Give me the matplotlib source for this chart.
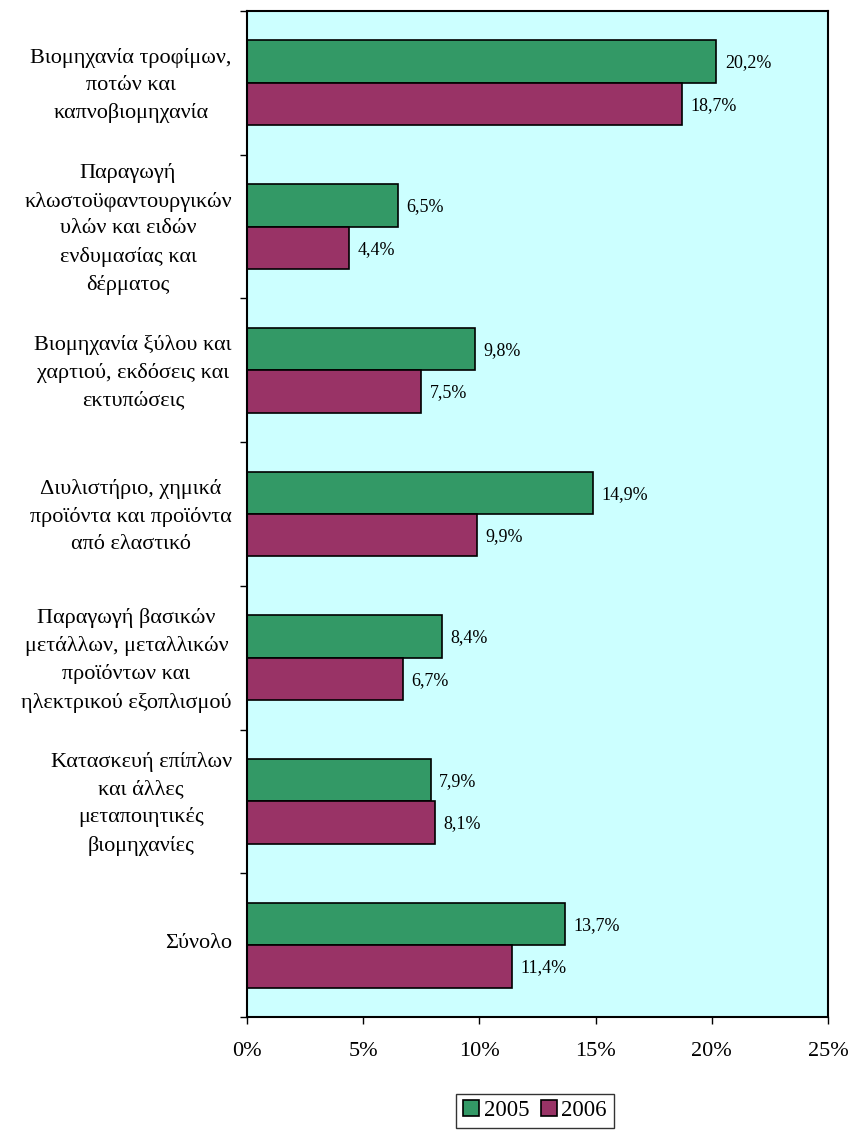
import matplotlib.pyplot as plt
import matplotlib.transforms as mtransforms
import numpy as np
from matplotlib.ticker import FuncFormatter

plt.rcParams['font.family'] = ['Liberation Serif', 'DejaVu Serif']

categories = ["Βιομηχανία τροφίμων,\nποτών και\nκαπνοβιομηχανία",
              "Παραγωγή\nκλωστοϋφαντουργικών\nυλών και ειδών\nενδυμασίας και\nδέρματος",
              "Βιομηχανία ξύλου και\nχαρτιού, εκδόσεις και\nεκτυπώσεις",
              "Διυλιστήριο, χημικά\nπροϊόντα και προϊόντα\nαπό ελαστικό",
              "Παραγωγή βασικών\nμετάλλων, μεταλλικών\nπροϊόντων και\nηλεκτρικού εξοπλισμού",
              "Κατασκευή επίπλων\nκαι άλλες\nμεταποιητικές\nβιομηχανίες",
              "Σύνολο"]
values_2005 = [20.2, 6.5, 9.8, 14.9, 8.4, 7.9, 13.7]
values_2006 = [18.7, 4.4, 7.5, 9.9, 6.7, 8.1, 11.4]
x_ticks = [0, 5, 10, 15, 20, 25]

fig = plt.figure(figsize=(8.53, 11.32), dpi=100)
ax = fig.add_axes([0.2896, 0.1016, 0.6811, 0.8887])
ax.set_facecolor('#CCFFFF')

n = len(categories)
pos = np.arange(n)
h = 0.295
b1 = ax.barh(pos - h / 2, values_2005, height=h, color='#339966',
             edgecolor='black', linewidth=1.2, label='2005')
b2 = ax.barh(pos + h / 2, values_2006, height=h, color='#993366',
             edgecolor='black', linewidth=1.2, label='2006')

for bars, vals in [(b1, values_2005), (b2, values_2006)]:
    for bar, v in zip(bars, vals):
        ax.annotate(f"{v:.1f}%".replace('.', ','),
                    (v, bar.get_y() + bar.get_height() / 2),
                    xytext=(6, -1), textcoords='offset points',
                    va='center', ha='left', fontsize=13)

ax.set_xlim(0, 25)
ax.set_ylim(n - 0.5, -0.5)
ax.set_xticks(x_ticks)
ax.xaxis.set_major_formatter(FuncFormatter(lambda x, p: f"{x:.0f}%"))
ax.tick_params(axis='x', labelsize=16, length=5, width=1, pad=13)

# category boundaries as ticks, labels at centers
ax.set_yticks(np.arange(-0.5, n, 1))
ax.set_yticklabels([])
ax.set_yticks(pos, minor=True)
ax.set_yticklabels(categories, minor=True, fontsize=16, ha='right',
                   multialignment='center', linespacing=1.55)
ax.tick_params(axis='y', which='major', length=5, width=1)
ax.tick_params(axis='y', which='minor', length=0, pad=11)
shift = mtransforms.ScaledTranslation(0, 4 / 100, fig.dpi_scale_trans)
for lbl in ax.get_yticklabels(minor=True):
    lbl.set_transform(lbl.get_transform() + shift)

for s in ax.spines.values():
    s.set_linewidth(1.5)

fig.legend(handles=[b1, b2], loc='center', bbox_to_anchor=(0.627, 0.0186),
           ncol=2, fontsize=16.5, frameon=True, fancybox=False, edgecolor='black',
           handlelength=0.7, handleheight=0.7, handletextpad=0.2,
           columnspacing=0.5, borderpad=0.3)

fig.savefig('out.png', dpi=100, facecolor='white')
